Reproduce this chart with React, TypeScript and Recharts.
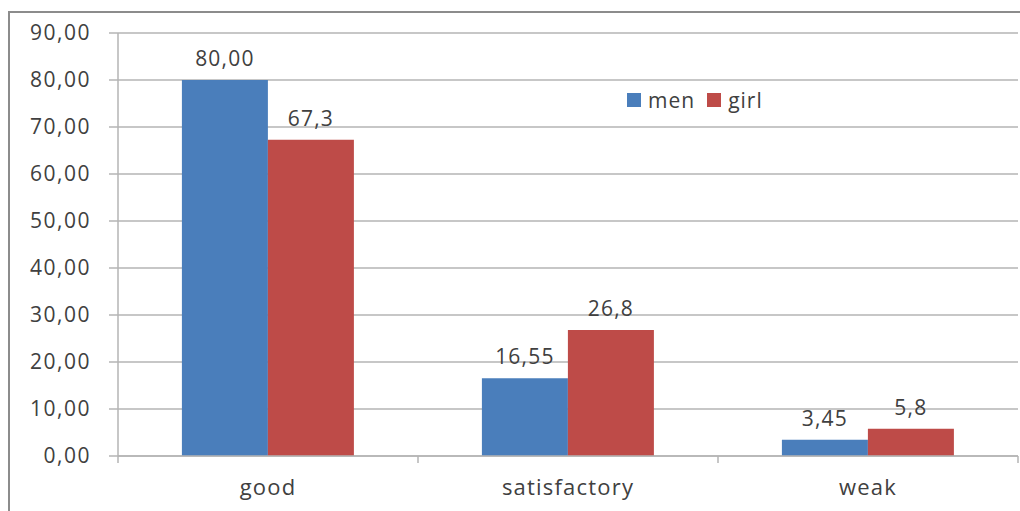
import React from 'react';
import { BarChart, Bar, CartesianGrid, XAxis, YAxis, Legend, LabelList } from 'recharts';

const categories = ['good', 'satisfactory', 'weak'];
const menValues = [80, 16.55, 3.45];
const girlValues = [67.3, 26.8, 5.8];
const menLabels = ['80,00', '16,55', '3,45'];
const girlLabels = ['67,3', '26,8', '5,8'];
const yTicks = [0, 10, 20, 30, 40, 50, 60, 70, 80, 90];

const data = categories.map((name, i) => ({
  name,
  men: menValues[i],
  girl: girlValues[i],
  menLabel: menLabels[i],
  girlLabel: girlLabels[i],
}));

const WIDTH = 1020;
const HEIGHT = 511;
const AXIS_X = 118;
const RIGHT = 2;
const BAND = (WIDTH - AXIS_X - RIGHT) / categories.length;

const FONT = '"Open Sans", "Liberation Sans", sans-serif';
const TEXT = '#404040';
const GRID = '#b4b4b4';
const BLUE = '#4a7ebb';
const RED = '#be4b48';

const fmt = (v: number) => v.toFixed(2).replace('.', ',');

// category label in the middle, tick marks on the band edges
const CategoryTick = (props: any) => {
  const { x, y, payload, index } = props;
  const axisY = y - 8;
  return (
    <g>
      {index === 0 && (
        <line x1={x - BAND / 2} x2={x - BAND / 2} y1={axisY} y2={axisY + 7} stroke={GRID} strokeWidth={1.5} />
      )}
      <line x1={x + BAND / 2} x2={x + BAND / 2} y1={axisY} y2={axisY + 7} stroke={GRID} strokeWidth={1.5} />
      <text x={x} y={axisY + 39} textAnchor="middle" fill={TEXT} fontSize={22} fontFamily={FONT} style={{ letterSpacing: 1.2 }}>
        {payload.value}
      </text>
    </g>
  );
};

const LegendBox = () => (
  <div style={{ display: 'flex', alignItems: 'center', fontFamily: FONT, fontSize: 21, color: TEXT, letterSpacing: 1 }}>
    <span style={{ width: 14, height: 14, background: BLUE, display: 'inline-block', marginRight: 7 }} />
    <span style={{ marginRight: 12 }}>men</span>
    <span style={{ width: 14, height: 14, background: RED, display: 'inline-block', marginRight: 7 }} />
    <span>girl</span>
  </div>
);

export default function App() {
  return (
    <div style={{ position: 'absolute', left: 0, top: 0, width: WIDTH, height: HEIGHT, background: '#fff', overflow: 'hidden' }}>
      <div
        style={{
          position: 'absolute',
          left: 8,
          top: 11,
          width: WIDTH + 20,
          height: HEIGHT + 20,
          borderLeft: '2px solid #8c8c8c',
          borderTop: '2px solid #8c8c8c',
        }}
      />
      <div style={{ position: 'absolute', left: 0, top: 0 }}>
        <BarChart
          width={WIDTH}
          height={HEIGHT}
          data={data}
          margin={{ top: 33, right: RIGHT, bottom: 15, left: 0 }}
          barCategoryGap="21.3%"
          barGap={0}
        >
          <CartesianGrid vertical={false} stroke={GRID} strokeWidth={1.5} />
          <XAxis
            dataKey="name"
            height={40}
            axisLine={{ stroke: GRID, strokeWidth: 1.5 }}
            tickLine={false}
            tick={<CategoryTick />}
            interval={0}
          />
          <YAxis
            width={AXIS_X}
            domain={[0, 90]}
            ticks={yTicks}
            tickFormatter={fmt}
            axisLine={{ stroke: GRID, strokeWidth: 1.5 }}
            tickLine={{ stroke: GRID, strokeWidth: 1.5 }}
            tickSize={9}
            tickMargin={18}
            tick={{ fill: TEXT, fontSize: 21, fontFamily: FONT, style: { letterSpacing: 1.5 } }}
          />
          <Legend
            layout="horizontal"
            verticalAlign="middle"
            align="center"
            content={<LegendBox />}
            wrapperStyle={{ left: 627, top: 86, width: 200, height: 30 }}
          />
          <Bar dataKey="men" fill={BLUE} isAnimationActive={false}>
            <LabelList dataKey="menLabel" position="top" offset={14} fill={TEXT} fontSize={21} fontFamily={FONT} style={{ letterSpacing: 1.2 }} />
          </Bar>
          <Bar dataKey="girl" fill={RED} isAnimationActive={false}>
            <LabelList dataKey="girlLabel" position="top" offset={14} fill={TEXT} fontSize={21} fontFamily={FONT} style={{ letterSpacing: 1.2 }} />
          </Bar>
        </BarChart>
      </div>
    </div>
  );
}
